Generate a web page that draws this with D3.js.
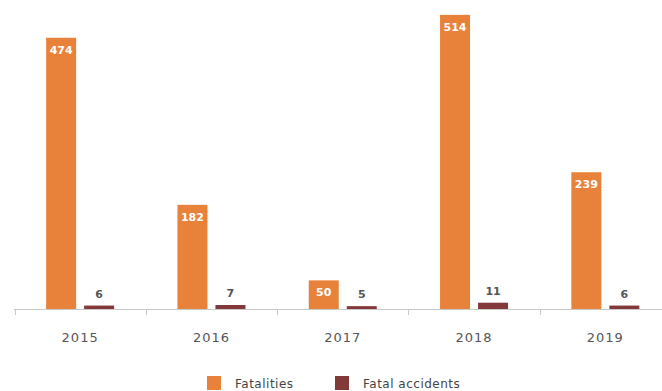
<!DOCTYPE html>
<html><head><meta charset="utf-8">
<script src="https://cdn.jsdelivr.net/npm/d3@7"></script>
<style>body{margin:0;background:#fff;}svg{display:block;font-family:"DejaVu Sans",Verdana,sans-serif;}</style>
</head><body>
<svg id="c" width="662" height="391"></svg>
<script>
const years = ["2015","2016","2017","2018","2019"];
const fatalities = [474,182,50,514,239];
const fatalAccidents = [6,7,5,11,6];
const seriesNames = ["Fatalities","Fatal accidents"];
const colors = ["#E8823A","#83393A"];

const svg = d3.select("#c");
const x = d3.scaleBand().domain(years).range([14.5,671]).padding(0);
const y = d3.scaleLinear().domain([0,540]).range([309,0]);
const barW = 30, gap = 8;

// axis
svg.append("line").attr("x1",14).attr("x2",662).attr("y1",309.5).attr("y2",309.5)
  .attr("stroke","#c8c8c8").attr("stroke-width",1);
years.forEach((yr,i)=>{
  const b = x(yr);
  svg.append("line").attr("x1",Math.round(b)+0.5).attr("x2",Math.round(b)+0.5).attr("y1",309).attr("y2",315)
    .attr("stroke","#c8c8c8");
});
svg.append("g").selectAll("text").data(years).join("text")
  .attr("x",d=>x(d)+x.bandwidth()/2).attr("y",342)
  .attr("text-anchor","middle").attr("font-size",13).attr("letter-spacing","1px")
  .attr("fill","#555").text(d=>d);

// bars
const g = svg.append("g");
years.forEach((yr,i)=>{
  const c = x(yr)+x.bandwidth()/2;
  const x1 = c - gap/2 - barW, x2 = c + gap/2;
  g.append("rect").attr("x",x1).attr("y",y(fatalities[i])).attr("width",barW)
    .attr("height",y(0)-y(fatalities[i])).attr("fill",colors[0]);
  g.append("text").attr("x",x1+barW/2).attr("y",y(fatalities[i])+16)
    .attr("text-anchor","middle").attr("font-size",11).attr("font-weight","bold")
    .attr("fill","#fff").text(fatalities[i]);
  g.append("rect").attr("x",x2).attr("y",y(fatalAccidents[i])).attr("width",barW)
    .attr("height",y(0)-y(fatalAccidents[i])).attr("fill",colors[1]);
  g.append("text").attr("x",x2+barW/2).attr("y",y(fatalAccidents[i])-8)
    .attr("text-anchor","middle").attr("font-size",11).attr("font-weight","bold")
    .attr("fill","#555").text(fatalAccidents[i]);
});

// legend
const lx = [207,335];
seriesNames.forEach((s,i)=>{
  svg.append("rect").attr("x",lx[i]).attr("y",376).attr("width",14).attr("height",14).attr("fill",colors[i]);
  svg.append("text").attr("x",lx[i]+28).attr("y",388).attr("font-size",12).attr("letter-spacing","0.5px")
    .attr("fill","#444").text(s);
});
</script>
</body></html>
